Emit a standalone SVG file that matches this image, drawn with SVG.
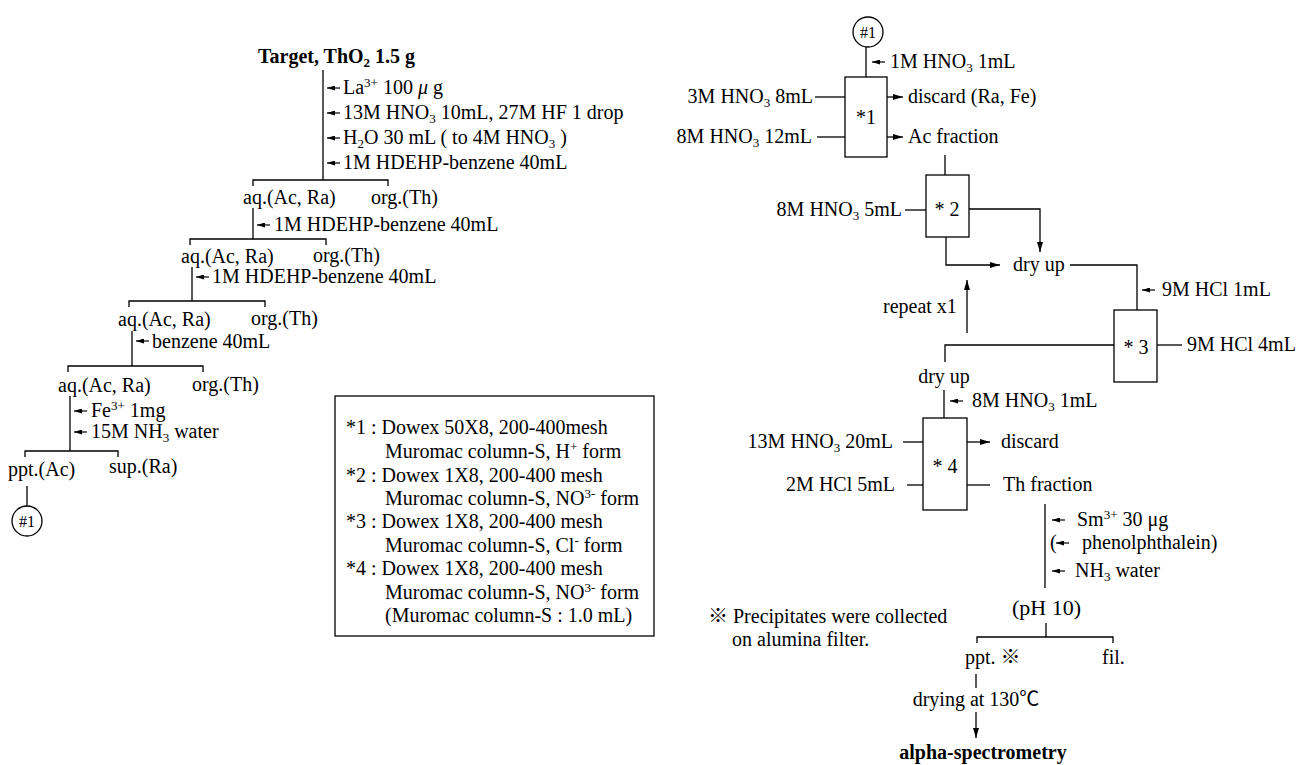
<svg xmlns="http://www.w3.org/2000/svg" width="1305" height="765" viewBox="0 0 1305 765">
<style>
text{font-family:"Liberation Serif","Times New Roman","Noto Sans CJK JP",serif;font-size:20px;fill:#000}
.b{font-weight:bold}
.m{text-anchor:middle}
.e{text-anchor:end}
.ph{font-size:22px}
.c{font-size:16px}
.sb{font-size:13px}
.ln{stroke:#000;stroke-width:1.3;fill:none}
.box{stroke:#000;stroke-width:1.3;fill:#fff}
.a{stroke:#000;stroke-width:1.3;fill:none;marker-end:url(#ah)}
.s{stroke:#000;stroke-width:1.2;fill:none;marker-end:url(#as)}
</style>
<defs>
<marker id="ah" viewBox="0 0 10 6" refX="10" refY="3" markerWidth="10" markerHeight="6" markerUnits="userSpaceOnUse" orient="auto"><path d="M0,0 L10,3 L0,6 z" fill="#000"/></marker>
<marker id="as" viewBox="0 0 8 5" refX="8" refY="2.5" markerWidth="8" markerHeight="5" markerUnits="userSpaceOnUse" orient="auto"><path d="M0,0 L8,2.5 L0,5 z" fill="#000"/></marker>
</defs>
<rect width="1305" height="765" fill="#fff"/>

<g id="connectors">
<line class="ln" x1="323" y1="70" x2="323" y2="180"/>
<polyline class="ln" points="253,186 253,180 388,180 388,186"/>
<line class="ln" x1="253" y1="208" x2="253" y2="239"/>
<polyline class="ln" points="190,245 190,239 326,239 326,245"/>
<line class="ln" x1="192" y1="267" x2="192" y2="301"/>
<polyline class="ln" points="129,307 129,301 265,301 265,307"/>
<line class="ln" x1="132" y1="331" x2="132" y2="366"/>
<polyline class="ln" points="68,372 68,366 203,366 203,372"/>
<line class="ln" x1="70" y1="396" x2="70" y2="451"/>
<polyline class="ln" points="25,457 25,451 118,451 118,457"/>
<line class="ln" x1="27" y1="486" x2="27" y2="506"/>
<line class="s" x1="340" y1="88" x2="327" y2="88"/>
<line class="s" x1="340" y1="113" x2="327" y2="113"/>
<line class="s" x1="340" y1="138" x2="327" y2="138"/>
<line class="s" x1="340" y1="163" x2="327" y2="163"/>
<line class="s" x1="270" y1="225" x2="257" y2="225"/>
<line class="s" x1="209" y1="277" x2="196" y2="277"/>
<line class="s" x1="149" y1="341" x2="136" y2="341"/>
<line class="s" x1="87" y1="411" x2="74" y2="411"/>
<line class="s" x1="87" y1="432" x2="74" y2="432"/>

<line class="ln" x1="866" y1="47" x2="866" y2="77"/>
<line class="s" x1="885" y1="62" x2="872" y2="62"/>
<line class="ln" x1="815" y1="97" x2="845" y2="97"/>
<line class="ln" x1="817" y1="137" x2="845" y2="137"/>
<line class="a" x1="887" y1="97" x2="903" y2="97"/>
<line class="a" x1="887" y1="137" x2="903" y2="137"/>
<line class="ln" x1="945" y1="155" x2="945" y2="175"/>
<line class="ln" x1="905" y1="210" x2="926" y2="210"/>
<polyline class="a" points="969,209 1040,209 1040,252"/>
<polyline class="a" points="946,237 946,265 1000,265"/>
<polyline class="ln" points="1070,265 1137,265 1137,310"/>
<line class="s" x1="1155" y1="290" x2="1142" y2="290"/>
<line class="ln" x1="1157" y1="345" x2="1182" y2="345"/>
<polyline class="ln" points="1114,345 945,345 945,362"/>
<line class="a" x1="967" y1="333" x2="967" y2="280"/>
<line class="ln" x1="944" y1="390" x2="944" y2="418"/>
<line class="s" x1="963" y1="401" x2="950" y2="401"/>
<line class="ln" x1="903" y1="442" x2="923" y2="442"/>
<line class="ln" x1="907" y1="485" x2="923" y2="485"/>
<line class="a" x1="967" y1="442" x2="990" y2="442"/>
<line class="ln" x1="967" y1="485" x2="990" y2="485"/>
<line class="ln" x1="1045" y1="504" x2="1045" y2="588"/>
<line class="s" x1="1065" y1="520" x2="1052" y2="520"/>
<line class="s" x1="1069" y1="543" x2="1056" y2="543"/>
<line class="s" x1="1065" y1="571" x2="1052" y2="571"/>
<line class="ln" x1="1046" y1="623" x2="1046" y2="637"/>
<polyline class="ln" points="977,643 977,637 1113,637 1113,643"/>
<line class="ln" x1="976" y1="674" x2="976" y2="688"/>
<line class="a" x1="976" y1="712" x2="976" y2="738"/>
</g>

<g id="target"><text class="b" x="258" y="63">Target, ThO<tspan class="sb" baseline-shift="-4">2</tspan> 1.5 g</text></g>
<g id="add1">
<text x="343" y="94">La<tspan class="sb" baseline-shift="7">3+</tspan> 100 <tspan font-style="italic">μ</tspan> g</text>
<text x="343" y="119">13M HNO<tspan class="sb" baseline-shift="-4">3</tspan> 10mL, 27M HF 1 drop</text>
<text x="343" y="144">H<tspan class="sb" baseline-shift="-4">2</tspan>O 30 mL ( to 4M HNO<tspan class="sb" baseline-shift="-4">3</tspan> )</text>
<text x="343" y="169">1M HDEHP-benzene 40mL</text>
</g>
<g id="lvl1"><text x="243" y="204">aq.(Ac, Ra)</text><text x="371" y="204">org.(Th)</text></g>
<g id="add2"><text x="274" y="231">1M HDEHP-benzene 40mL</text></g>
<g id="lvl2"><text x="181" y="263">aq.(Ac, Ra)</text><text x="313" y="262">org.(Th)</text></g>
<g id="add3"><text x="212" y="283">1M HDEHP-benzene 40mL</text></g>
<g id="lvl3"><text x="118" y="326">aq.(Ac, Ra)</text><text x="251" y="325">org.(Th)</text></g>
<g id="add4"><text x="152" y="348">benzene 40mL</text></g>
<g id="lvl4"><text x="58" y="392">aq.(Ac, Ra)</text><text x="192" y="391">org.(Th)</text></g>
<g id="add5">
<text x="91" y="417">Fe<tspan class="sb" baseline-shift="7">3+</tspan> 1mg</text>
<text x="91" y="438">15M NH<tspan class="sb" baseline-shift="-4">3</tspan> water</text>
</g>
<g id="lvl5"><text x="8" y="476">ppt.(Ac)</text><text x="109" y="473">sup.(Ra)</text></g>
<g id="ref1"><circle class="box" cx="27" cy="521" r="15"/><text class="c m" x="27" y="527">#1</text></g>

<g id="legend">
<rect class="box" x="335" y="396" width="319" height="240"/>
<text x="346" y="434">*1 : Dowex 50X8, 200-400mesh</text>
<text x="385" y="458">Muromac column-S, H<tspan class="sb" baseline-shift="7">+</tspan> form</text>
<text x="346" y="482">*2 : Dowex 1X8, 200-400 mesh</text>
<text x="385" y="505">Muromac column-S, NO<tspan class="sb" baseline-shift="7">3-</tspan> form</text>
<text x="346" y="528">*3 : Dowex 1X8, 200-400 mesh</text>
<text x="385" y="552">Muromac column-S, Cl<tspan class="sb" baseline-shift="7">-</tspan> form</text>
<text x="346" y="575">*4 : Dowex 1X8, 200-400 mesh</text>
<text x="385" y="599">Muromac column-S, NO<tspan class="sb" baseline-shift="7">3-</tspan> form</text>
<text x="385" y="622">(Muromac column-S : 1.0 mL)</text>
</g>

<g id="ref1r"><circle class="box" cx="868" cy="32" r="15"/><text class="c m" x="868" y="38">#1</text></g>
<g id="in1"><text x="890" y="68">1M HNO<tspan class="sb" baseline-shift="-4">3</tspan> 1mL</text></g>
<g id="col1">
<rect class="box" x="845" y="77" width="42" height="80"/>
<text class="m" x="866" y="124">*1</text>
</g>
<g id="el1">
<text class="e" x="813" y="103">3M HNO<tspan class="sb" baseline-shift="-4">3</tspan> 8mL</text>
<text class="e" x="812" y="143">8M HNO<tspan class="sb" baseline-shift="-4">3</tspan> 12mL</text>
</g>
<g id="out1"><text x="908" y="103">discard (Ra, Fe)</text><text x="908" y="143">Ac fraction</text></g>
<g id="col2">
<rect class="box" x="926" y="175" width="43" height="62"/>
<text class="m" x="947" y="216">* 2</text>
</g>
<g id="el2"><text class="e" x="902" y="216">8M HNO<tspan class="sb" baseline-shift="-4">3</tspan> 5mL</text></g>
<g id="dry1"><text x="1013" y="271">dry up</text></g>
<g id="in3"><text x="1162" y="296">9M HCl 1mL</text></g>
<g id="col3">
<rect class="box" x="1114" y="310" width="43" height="72"/>
<text class="m" x="1136" y="354">* 3</text>
</g>
<g id="el3"><text x="1187" y="351">9M HCl 4mL</text></g>
<g id="repeat"><text x="883" y="313">repeat x1</text></g>
<g id="dry2"><text class="m" x="944" y="383">dry up</text></g>
<g id="in4"><text x="972" y="407">8M HNO<tspan class="sb" baseline-shift="-4">3</tspan> 1mL</text></g>
<g id="col4">
<rect class="box" x="923" y="418" width="44" height="92"/>
<text class="m" x="945" y="473">* 4</text>
</g>
<g id="el4">
<text class="e" x="893" y="448">13M HNO<tspan class="sb" baseline-shift="-4">3</tspan> 20mL</text>
<text class="e" x="895" y="491">2M HCl 5mL</text>
</g>
<g id="out4"><text x="1001" y="448">discard</text><text x="1003" y="491">Th fraction</text></g>
<g id="add6">
<text x="1077" y="526">Sm<tspan class="sb" baseline-shift="7">3+</tspan> 30 μg</text>
<text x="1050" y="549">(</text><text x="1082" y="549">phenolphthalein)</text>
<text x="1075" y="577">NH<tspan class="sb" baseline-shift="-4">3</tspan> water</text>
</g>
<g id="ph"><text class="ph" x="1012" y="615">(pH 10)</text></g>
<g id="ppt"><text x="965" y="664">ppt. ※</text><text x="1102" y="664">fil.</text></g>
<g id="dry3"><text class="m" x="976" y="706">drying at 130℃</text></g>
<g id="alpha"><text class="b m" x="983" y="759">alpha-spectrometry</text></g>
<g id="note">
<text x="708" y="623">※ Precipitates were collected</text>
<text x="732" y="646">on alumina filter.</text>
</g>
</svg>
